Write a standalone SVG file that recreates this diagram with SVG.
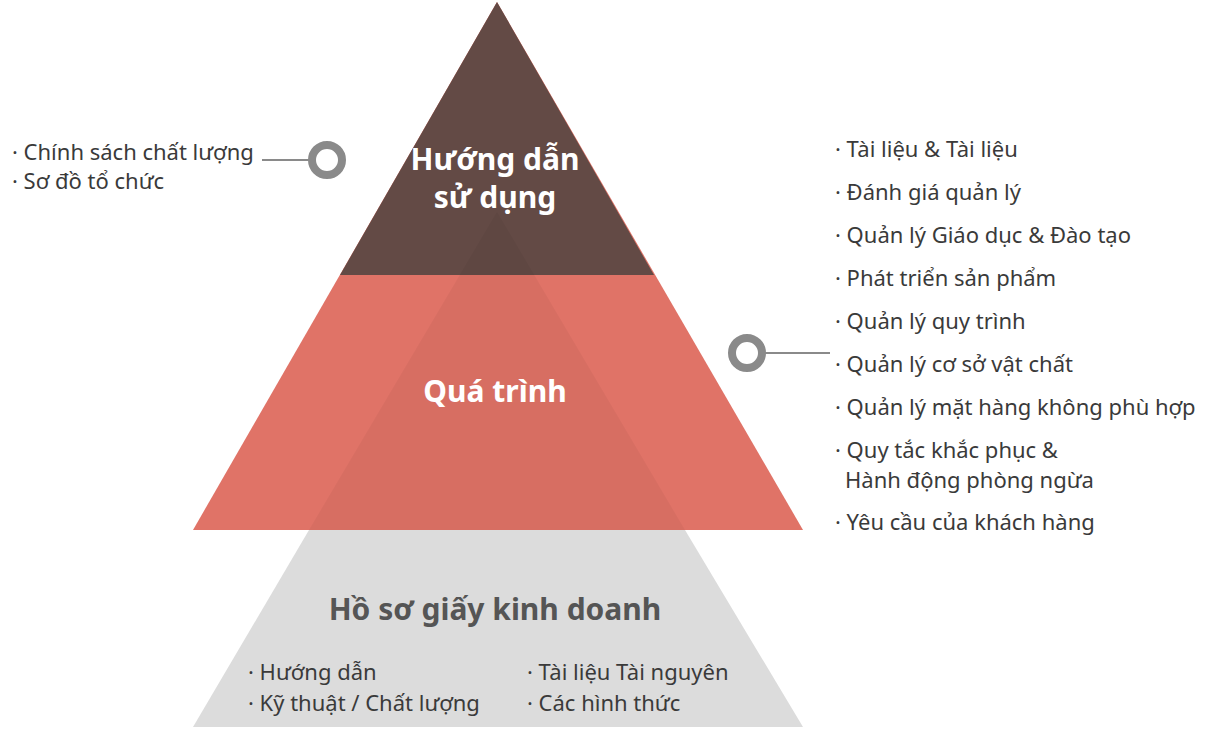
<svg xmlns="http://www.w3.org/2000/svg" width="1220" height="738" viewBox="0 0 1220 738">
<style>
.t{font-family:"Noto Sans","Open Sans",sans-serif;font-size:22px;fill:#3a3a3a}
.h{font-family:"Noto Sans","Open Sans",sans-serif;font-size:30px;font-weight:bold;fill:#fff;text-anchor:middle}
.ring{fill:none;stroke:#8a8a8a;stroke-width:8}
.ln{stroke:#8a8a8a;stroke-width:2}
</style>
<rect width="1220" height="738" fill="#fff"/>
<g id="process"><polygon points="497,2 193,530 803,530" fill="#e07367"/></g>
<g id="manual"><polygon points="497,2 340,275 654,275" fill="#634a45"/></g>
<g id="records">
<polygon points="497,212 309,530 685,530" fill="#000" fill-opacity="0.04"/>
<polygon points="309,530 685,530 803,727 193,727" fill="#dcdcdc"/>
</g>
<g id="labels">
<text class="h" x="495" y="170">Hướng dẫn</text>
<text class="h" x="495" y="208">sử dụng</text>
<text class="h" x="495" y="402">Quá trình</text>
<text class="h" x="495" y="620" style="fill:#555">Hồ sơ giấy kinh doanh</text>
<text class="t" x="248" y="680">· Hướng dẫn</text>
<text class="t" x="248" y="711">· Kỹ thuật / Chất lượng</text>
<text class="t" x="527" y="680">· Tài liệu Tài nguyên</text>
<text class="t" x="527" y="711">· Các hình thức</text>
</g>
<g id="connectors">
<line class="ln" x1="262" y1="160" x2="310" y2="160"/>
<circle class="ring" cx="327" cy="160" r="15"/>
<line class="ln" x1="765" y1="353" x2="830" y2="353"/>
<circle class="ring" cx="747" cy="353" r="15"/>
</g>
<g id="left-list">
<text class="t" x="12" y="160">· Chính sách chất lượng</text>
<text class="t" x="12" y="189">· Sơ đồ tổ chức</text>
</g>
<g id="right-list">
<text class="t" x="835" y="157">· Tài liệu &amp; Tài liệu</text>
<text class="t" x="835" y="200">· Đánh giá quản lý</text>
<text class="t" x="835" y="243">· Quản lý Giáo dục &amp; Đào tạo</text>
<text class="t" x="835" y="286">· Phát triển sản phẩm</text>
<text class="t" x="835" y="329">· Quản lý quy trình</text>
<text class="t" x="835" y="372">· Quản lý cơ sở vật chất</text>
<text class="t" x="835" y="415">· Quản lý mặt hàng không phù hợp</text>
<text class="t" x="835" y="458">· Quy tắc khắc phục &amp;</text>
<text class="t" x="845" y="488">Hành động phòng ngừa</text>
<text class="t" x="835" y="530">· Yêu cầu của khách hàng</text>
</g>
</svg>
